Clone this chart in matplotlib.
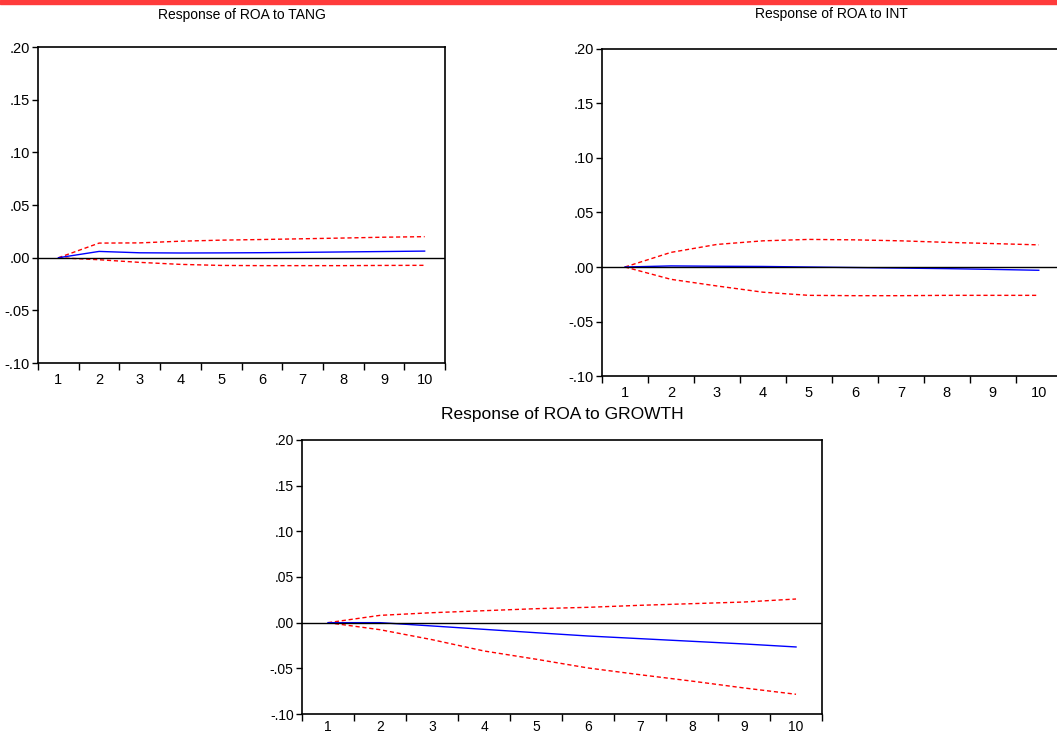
import numpy as np
import matplotlib
matplotlib.use('Agg')
import matplotlib.pyplot as plt
from matplotlib import font_manager
from matplotlib.patches import Rectangle

periods = list(range(1, 11))

tang_resp = [0.0, 0.006, 0.0047, 0.0045, 0.0046, 0.0048, 0.0051, 0.0055, 0.0059, 0.0063]
tang_upper = [0.0, 0.0139, 0.0141, 0.0157, 0.0167, 0.0173, 0.0180, 0.0187, 0.0195, 0.0200]
tang_lower = [0.0, -0.0019, -0.0044, -0.0063, -0.0073, -0.0075, -0.0075, -0.0075, -0.0073, -0.0072]

int_resp = [0.0, 0.0010, 0.0007, 0.0005, 0.0, -0.0005, -0.0010, -0.0015, -0.0022, -0.0030]
int_upper = [0.0, 0.0134, 0.0207, 0.0240, 0.0253, 0.0249, 0.0240, 0.0226, 0.0215, 0.0203]
int_lower = [0.0, -0.0113, -0.0174, -0.0231, -0.0260, -0.0263, -0.0263, -0.0260, -0.0260, -0.0260]

growth_resp = [0.0, 0.0, -0.0036, -0.0073, -0.0110, -0.0146, -0.0175, -0.0204, -0.0233, -0.0266]
growth_upper = [0.0, 0.0080, 0.0109, 0.0131, 0.0153, 0.0168, 0.0190, 0.0208, 0.0226, 0.0259]
growth_lower = [0.0, -0.0077, -0.0186, -0.0310, -0.0400, -0.0496, -0.0570, -0.0640, -0.0715, -0.0784]

yticks = [-0.10, -0.05, 0.0, 0.05, 0.10, 0.15, 0.20]
ytick_labels = ['-.10', '-.05', '.00', '.05', '.10', '.15', '.20']

names = {f.name for f in font_manager.fontManager.ttflist}
narrow = 'Liberation Sans Narrow' if 'Liberation Sans Narrow' in names else 'Liberation Sans'
regular = 'Liberation Sans'


def draw_panel(ax, title, resp, upper, lower, font, tsize, lsize, title_pad, xpad=7):
    ax.plot(periods, upper, color='red', linestyle=(0, (3, 2)), linewidth=1.0)
    ax.plot(periods, lower, color='red', linestyle=(0, (3, 2)), linewidth=1.0)
    ax.plot(periods, resp, color='blue', linewidth=1.0)
    ax.axhline(0, color='black', linewidth=1.0)
    ax.set_xlim(0.5, 10.5)
    ax.set_ylim(-0.10, 0.20)
    ax.set_yticks(yticks)
    ax.set_yticklabels(ytick_labels, fontfamily=font, fontsize=lsize)
    ax.set_xticks(periods)
    ax.set_xticklabels([str(p) for p in periods], fontfamily=font, fontsize=lsize)
    ax.set_xticks(np.arange(0.5, 11, 1.0), minor=True)
    ax.tick_params(axis='x', which='major', length=0, pad=xpad)
    ax.tick_params(axis='x', which='minor', length=5, width=1, direction='out')
    ax.tick_params(axis='y', length=4, width=1, direction='out', pad=2)
    for s in ax.spines.values():
        s.set_linewidth(1.2)
    ax.set_title(title, fontfamily=font, fontsize=tsize, pad=title_pad)


fig = plt.figure(figsize=(10.57, 7.35), dpi=100)
fig.add_artist(Rectangle((0, 0.995), 1, 0.005, transform=fig.transFigure,
                         color='#ff3b3b', zorder=10))

ax1 = fig.add_axes([0.036, 0.506, 0.385, 0.430])
draw_panel(ax1, 'Response of ROA to TANG', tang_resp, tang_upper, tang_lower,
           narrow, 10, 10.5, 20)

ax2 = fig.add_axes([0.5695, 0.4884, 0.435, 0.445])
draw_panel(ax2, 'Response of ROA to INT', int_resp, int_upper, int_lower,
           narrow, 10, 10.5, 22)

ax3 = fig.add_axes([0.2857, 0.02857, 0.492, 0.3728])
draw_panel(ax3, 'Response of ROA to GROWTH', growth_resp, growth_upper, growth_lower,
           regular, 12.5, 10, 15, xpad=4)

fig.savefig('out.png', dpi=100)
